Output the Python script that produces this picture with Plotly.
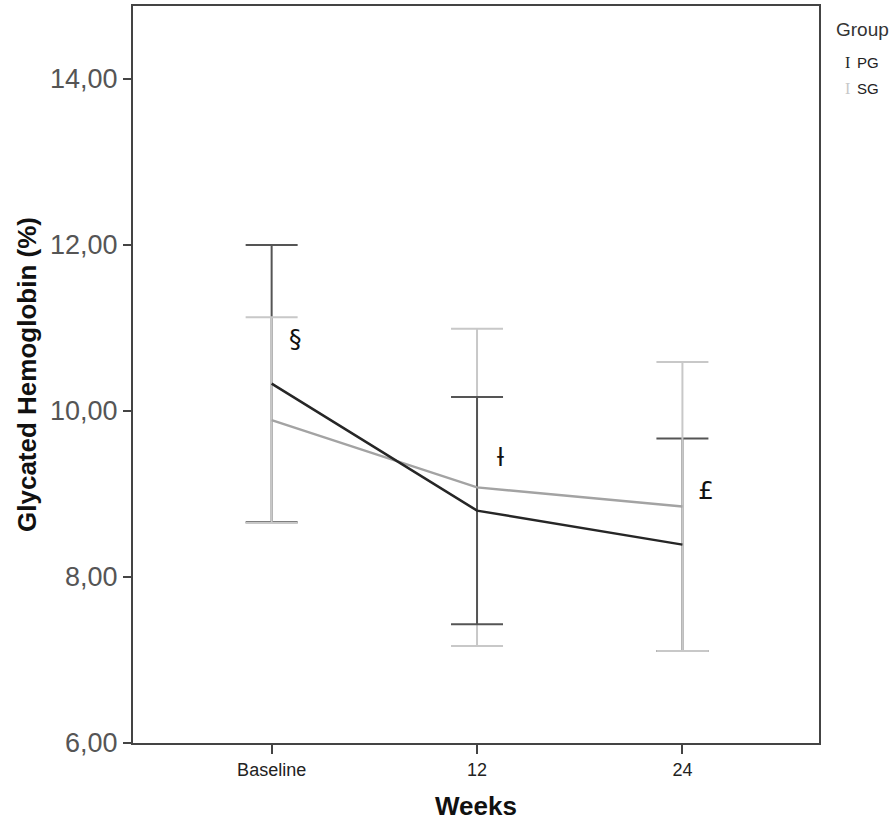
import plotly.graph_objects as go

weeks = ["Baseline", "12", "24"]
pg_mean = [10.33, 8.80, 8.39]
pg_err = [1.67, 1.37, 1.28]
sg_mean = [9.89, 9.08, 8.85]
sg_err = [1.24, 1.91, 1.74]
y_ticks = [6, 8, 10, 12, 14]
y_tick_labels = ["6,00", "8,00", "10,00", "12,00", "14,00"]
marks = ["§", "ƚ", "£"]
mark_y = [10.87, 9.44, 9.04]

PG_LINE = "#262626"
PG_ERR = "#555555"
SG_LINE = "#a3a3a3"
SG_ERR = "#c8c8c8"

fig = go.Figure()

def err_trace(idx, mean, err, color, name):
    return go.Scatter(
        x=[weeks[i] for i in idx], y=[mean[i] for i in idx], mode="markers",
        marker=dict(size=1, opacity=0), name=name, showlegend=False, hoverinfo="skip",
        error_y=dict(type="data", array=[err[i] for i in idx], symmetric=True,
                     color=color, thickness=2, width=26))

# layering of error bars like the reference
fig.add_trace(err_trace([1], sg_mean, sg_err, SG_ERR, "SG"))
fig.add_trace(err_trace([0, 1, 2], pg_mean, pg_err, PG_ERR, "PG"))
fig.add_trace(err_trace([0, 2], sg_mean, sg_err, SG_ERR, "SG"))

fig.add_trace(go.Scatter(x=weeks, y=sg_mean, mode="lines", name="SG",
                         line=dict(color=SG_LINE, width=2.5), showlegend=False))
fig.add_trace(go.Scatter(x=weeks, y=pg_mean, mode="lines", name="PG",
                         line=dict(color=PG_LINE, width=2.5), showlegend=False))

for i, m in enumerate(marks):
    fig.add_annotation(x=i + 0.115, y=mark_y[i], xref="x", yref="y", text=m,
                       showarrow=False, font=dict(family="DejaVu Sans", size=25, color="#111"))

# custom legend
fig.add_annotation(x=1.022, y=0.9675, xref="paper", yref="paper", text="Group",
                   showarrow=False, xanchor="left", yanchor="middle",
                   font=dict(family="Liberation Sans", size=19, color="#333"))
for j, (lbl, col) in enumerate([("PG", PG_LINE), ("SG", SG_ERR)]):
    yy = 0.923 - j * 0.035
    fig.add_annotation(x=1.0355, y=yy, xref="paper", yref="paper", text="I",
                       showarrow=False, xanchor="left", yanchor="middle",
                       font=dict(family="Liberation Serif", size=16, color=col))
    fig.add_annotation(x=1.052, y=yy, xref="paper", yref="paper", text=lbl,
                       showarrow=False, xanchor="left", yanchor="middle",
                       font=dict(family="Liberation Sans", size=15, color="#222"))

fig.update_layout(
    width=896, height=825,
    margin=dict(l=133, r=77, t=4, b=82),
    paper_bgcolor="white", plot_bgcolor="white",
    showlegend=False,
    font=dict(family="Liberation Sans"),
)
fig.update_xaxes(
    type="category", categoryorder="array", categoryarray=weeks,
    range=[-0.675, 2.665],
    showgrid=False, zeroline=False,
    showline=True, linecolor="#444", linewidth=2, mirror=True,
    ticks="outside", ticklen=9, tickwidth=2, tickcolor="#444",
    tickfont=dict(family="Liberation Sans", size=18, color="#222"),
    title=dict(text="<b>Weeks</b>", font=dict(family="Liberation Sans", size=26, color="#111"), standoff=18),
)
fig.update_yaxes(
    range=[6, 14.88], tickvals=y_ticks, ticktext=y_tick_labels,
    showgrid=False, zeroline=False,
    showline=True, linecolor="#444", linewidth=2, mirror=True,
    ticks="outside", ticklen=8, tickwidth=2, tickcolor="#444",
    tickfont=dict(family="Liberation Sans", size=27, color="#555"),
    title=dict(text="<b>Glycated Hemoglobin (%)</b>", font=dict(family="Liberation Sans", size=26, color="#111"), standoff=6),
)

fig.write_html("out.html", config={"displayModeBar": False},
               post_script="document.body.style.margin='0';")
